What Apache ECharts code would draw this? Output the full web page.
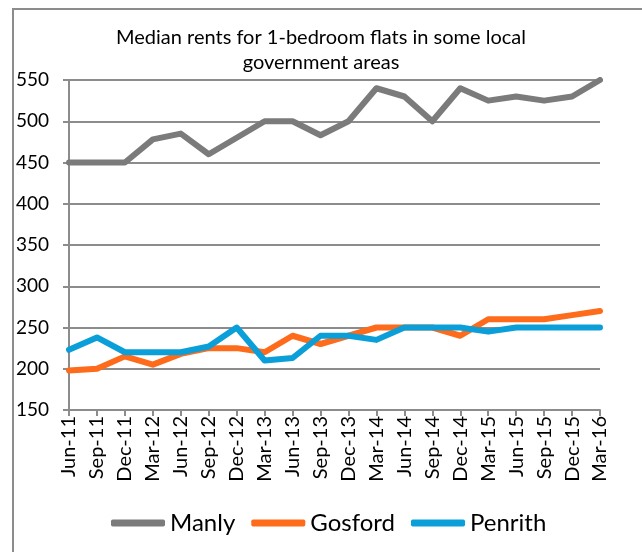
<!DOCTYPE html>
<html>
<head>
<meta charset="utf-8">
<script src="https://cdn.jsdelivr.net/npm/echarts@6/dist/echarts.min.js"></script>
<style>
  html, body { margin: 0; padding: 0; background: #fff; }
  #chart { width: 642px; height: 552px; }
</style>
</head>
<body>
<div id="chart"></div>
<script>
// quarters on the x axis
var quarters = ['Jun-11', 'Sep-11', 'Dec-11', 'Mar-12', 'Jun-12', 'Sep-12', 'Dec-12', 'Mar-13',
    'Jun-13', 'Sep-13', 'Dec-13', 'Mar-14', 'Jun-14', 'Sep-14', 'Dec-14', 'Mar-15',
    'Jun-15', 'Sep-15', 'Dec-15', 'Mar-16'];

// median weekly rents
var manly   = [450, 450, 450, 478, 485, 460, 480, 500, 500, 483, 500, 540, 530, 500, 540, 525, 530, 525, 530, 550];
var gosford = [198, 200, 215, 205, 218, 225, 225, 220, 240, 230, 240, 250, 250, 250, 240, 260, 260, 260, 265, 270];
var penrith = [223, 238, 220, 220, 220, 227, 250, 210, 213, 240, 240, 235, 250, 250, 250, 245, 250, 250, 250, 250];

var seriesNames = ['Manly', 'Gosford', 'Penrith'];
var seriesColors = ['#7b7b7b', '#fd6b1b', '#0a9fd9'];

var font = 'Lato';

function draw_chart() {
    var myChart = echarts.init(document.getElementById('chart'));

    var option = {
        backgroundColor: '#fff',
        animation: false,
        title: {
            text: 'Median rents for 1-bedroom flats in some local\ngovernment areas',
            left: 'center',
            top: 20,
            textStyle: {
                fontFamily: font,
                fontSize: 20,
                fontWeight: 'normal',
                color: '#000',
                lineHeight: 25
            }
        },
        // outer chart frame (only top and left edges show in the picture)
        graphic: [{
            type: 'rect',
            shape: { x: 13, y: 9, width: 700, height: 700 },
            style: { fill: 'none', stroke: '#8c8c8c', lineWidth: 2 },
            silent: true
        }],
        legend: {
            data: seriesNames,
            left: 106,
            top: 506,
            icon: 'roundRect',
            itemWidth: 54,
            itemHeight: 7,
            itemGap: 16,
            textStyle: {
                fontFamily: font,
                fontSize: 24,
                color: '#000'
            }
        },
        grid: {
            left: 69,
            right: 42,
            top: 80,
            bottom: 142
        },
        xAxis: {
            type: 'category',
            boundaryGap: false,
            data: quarters,
            axisLine: { lineStyle: { color: '#8c8c8c', width: 2 } },
            axisTick: { show: true, length: 6, lineStyle: { color: '#8c8c8c', width: 2 } },
            axisLabel: {
                rotate: 90,
                interval: 0,
                margin: 6,
                padding: [9, 0, 0, 0],
                fontFamily: font,
                fontSize: 20,
                color: '#000'
            },
            splitLine: { show: false }
        },
        yAxis: {
            type: 'value',
            min: 150,
            max: 550,
            interval: 50,
            axisLine: { show: true, lineStyle: { color: '#8c8c8c', width: 2 } },
            axisTick: { show: true, length: 6, lineStyle: { color: '#8c8c8c', width: 2 } },
            axisLabel: {
                margin: 20,
                fontFamily: font,
                fontSize: 19,
                color: '#000'
            },
            splitLine: { lineStyle: { color: '#8c8c8c', width: 2 } }
        },
        series: []
    };

    var values = [manly, gosford, penrith];
    for (var k = 0; k < values.length; k++) {
        option['series'].push({
            name: seriesNames[k],
            type: 'line',
            data: values[k],
            color: seriesColors[k],
            symbol: 'none',
            lineStyle: { width: 6, cap: 'round', join: 'round' }
        });
    }

    myChart.setOption(option);
}

draw_chart();
</script>
</body>
</html>
